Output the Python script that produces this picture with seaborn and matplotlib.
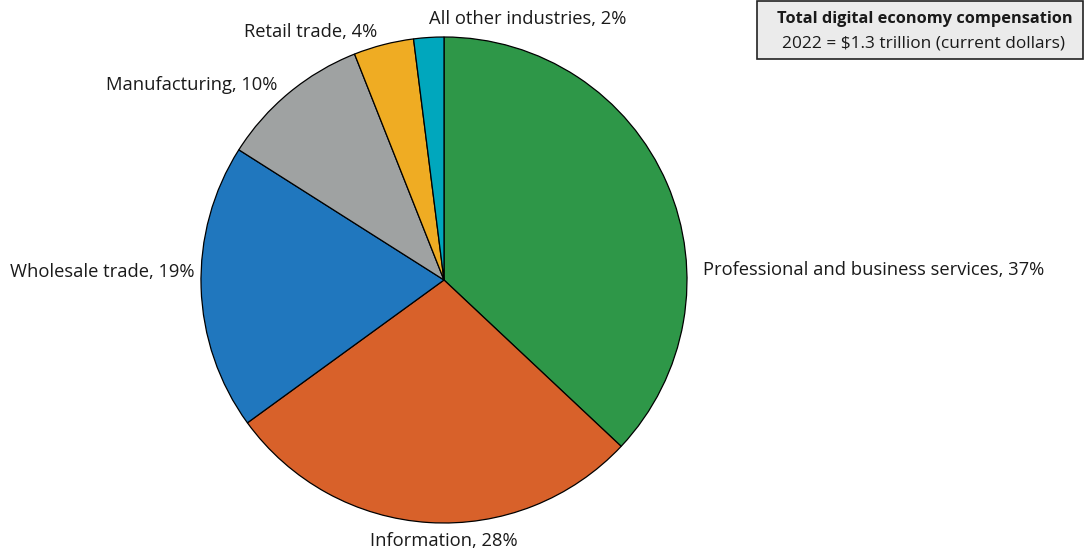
import matplotlib
matplotlib.use("Agg")
import matplotlib.pyplot as plt
from matplotlib.patches import Rectangle
import seaborn as sns

# Share of digital economy compensation by industry, 2022
industries = [
    "Professional and business services",
    "Information",
    "Wholesale trade",
    "Manufacturing",
    "Retail trade",
    "All other industries",
]
shares = [37, 28, 19, 10, 4, 2]
slice_colors = ["#2e9748", "#d8612a", "#2077be", "#9fa2a2", "#efac23", "#00a7bd"]

box_title = "Total digital economy compensation"
box_subtitle = "2022 = $1.3 trillion (current dollars)"

sns.set_theme(style="white")
plt.rcParams["font.family"] = ["Open Sans", "DejaVu Sans"]

W, H = 1085, 554
fig = plt.figure(figsize=(W / 100, H / 100), dpi=100)
ax = fig.add_axes([0, 0, 1, 1])

palette = sns.color_palette(slice_colors)
cx, cy, r = 444, H - 280, 243
wedges, _ = ax.pie(
    shares,
    colors=palette,
    startangle=90,
    counterclock=False,
    center=(cx, cy),
    radius=r,
    wedgeprops=dict(edgecolor="black", linewidth=0.9),
)
ax.set_xlim(0, W)
ax.set_ylim(0, H)
ax.set_aspect("equal")
ax.axis("off")

# label anchors (x, y in pixels from top-left) and alignment
label_layout = [
    (703, 270, "left"),
    (444, 541, "center"),
    (194, 272, "right"),
    (277, 85, "right"),
    (377, 32, "right"),
    (528, 19, "center"),
]
for name, val, (lx, ly, ha) in zip(industries, shares, label_layout):
    ax.text(lx, H - ly, f"{name}, {val}%", ha=ha, va="center",
            fontsize=13.2, color="#1a1a1a")

# summary box in the top-right corner
ax.add_patch(Rectangle((757, H - 59), 326, 58, facecolor="#ebebeb",
                       edgecolor="#222222", linewidth=1.2, clip_on=False))
ax.text(925, H - 19, box_title, ha="center", va="center",
        fontsize=11.8, fontweight="bold", color="#1a1a1a")
ax.text(924, H - 43, box_subtitle, ha="center", va="center",
        fontsize=12.4, color="#1a1a1a")

fig.savefig("out.png", dpi=100, facecolor="white")
